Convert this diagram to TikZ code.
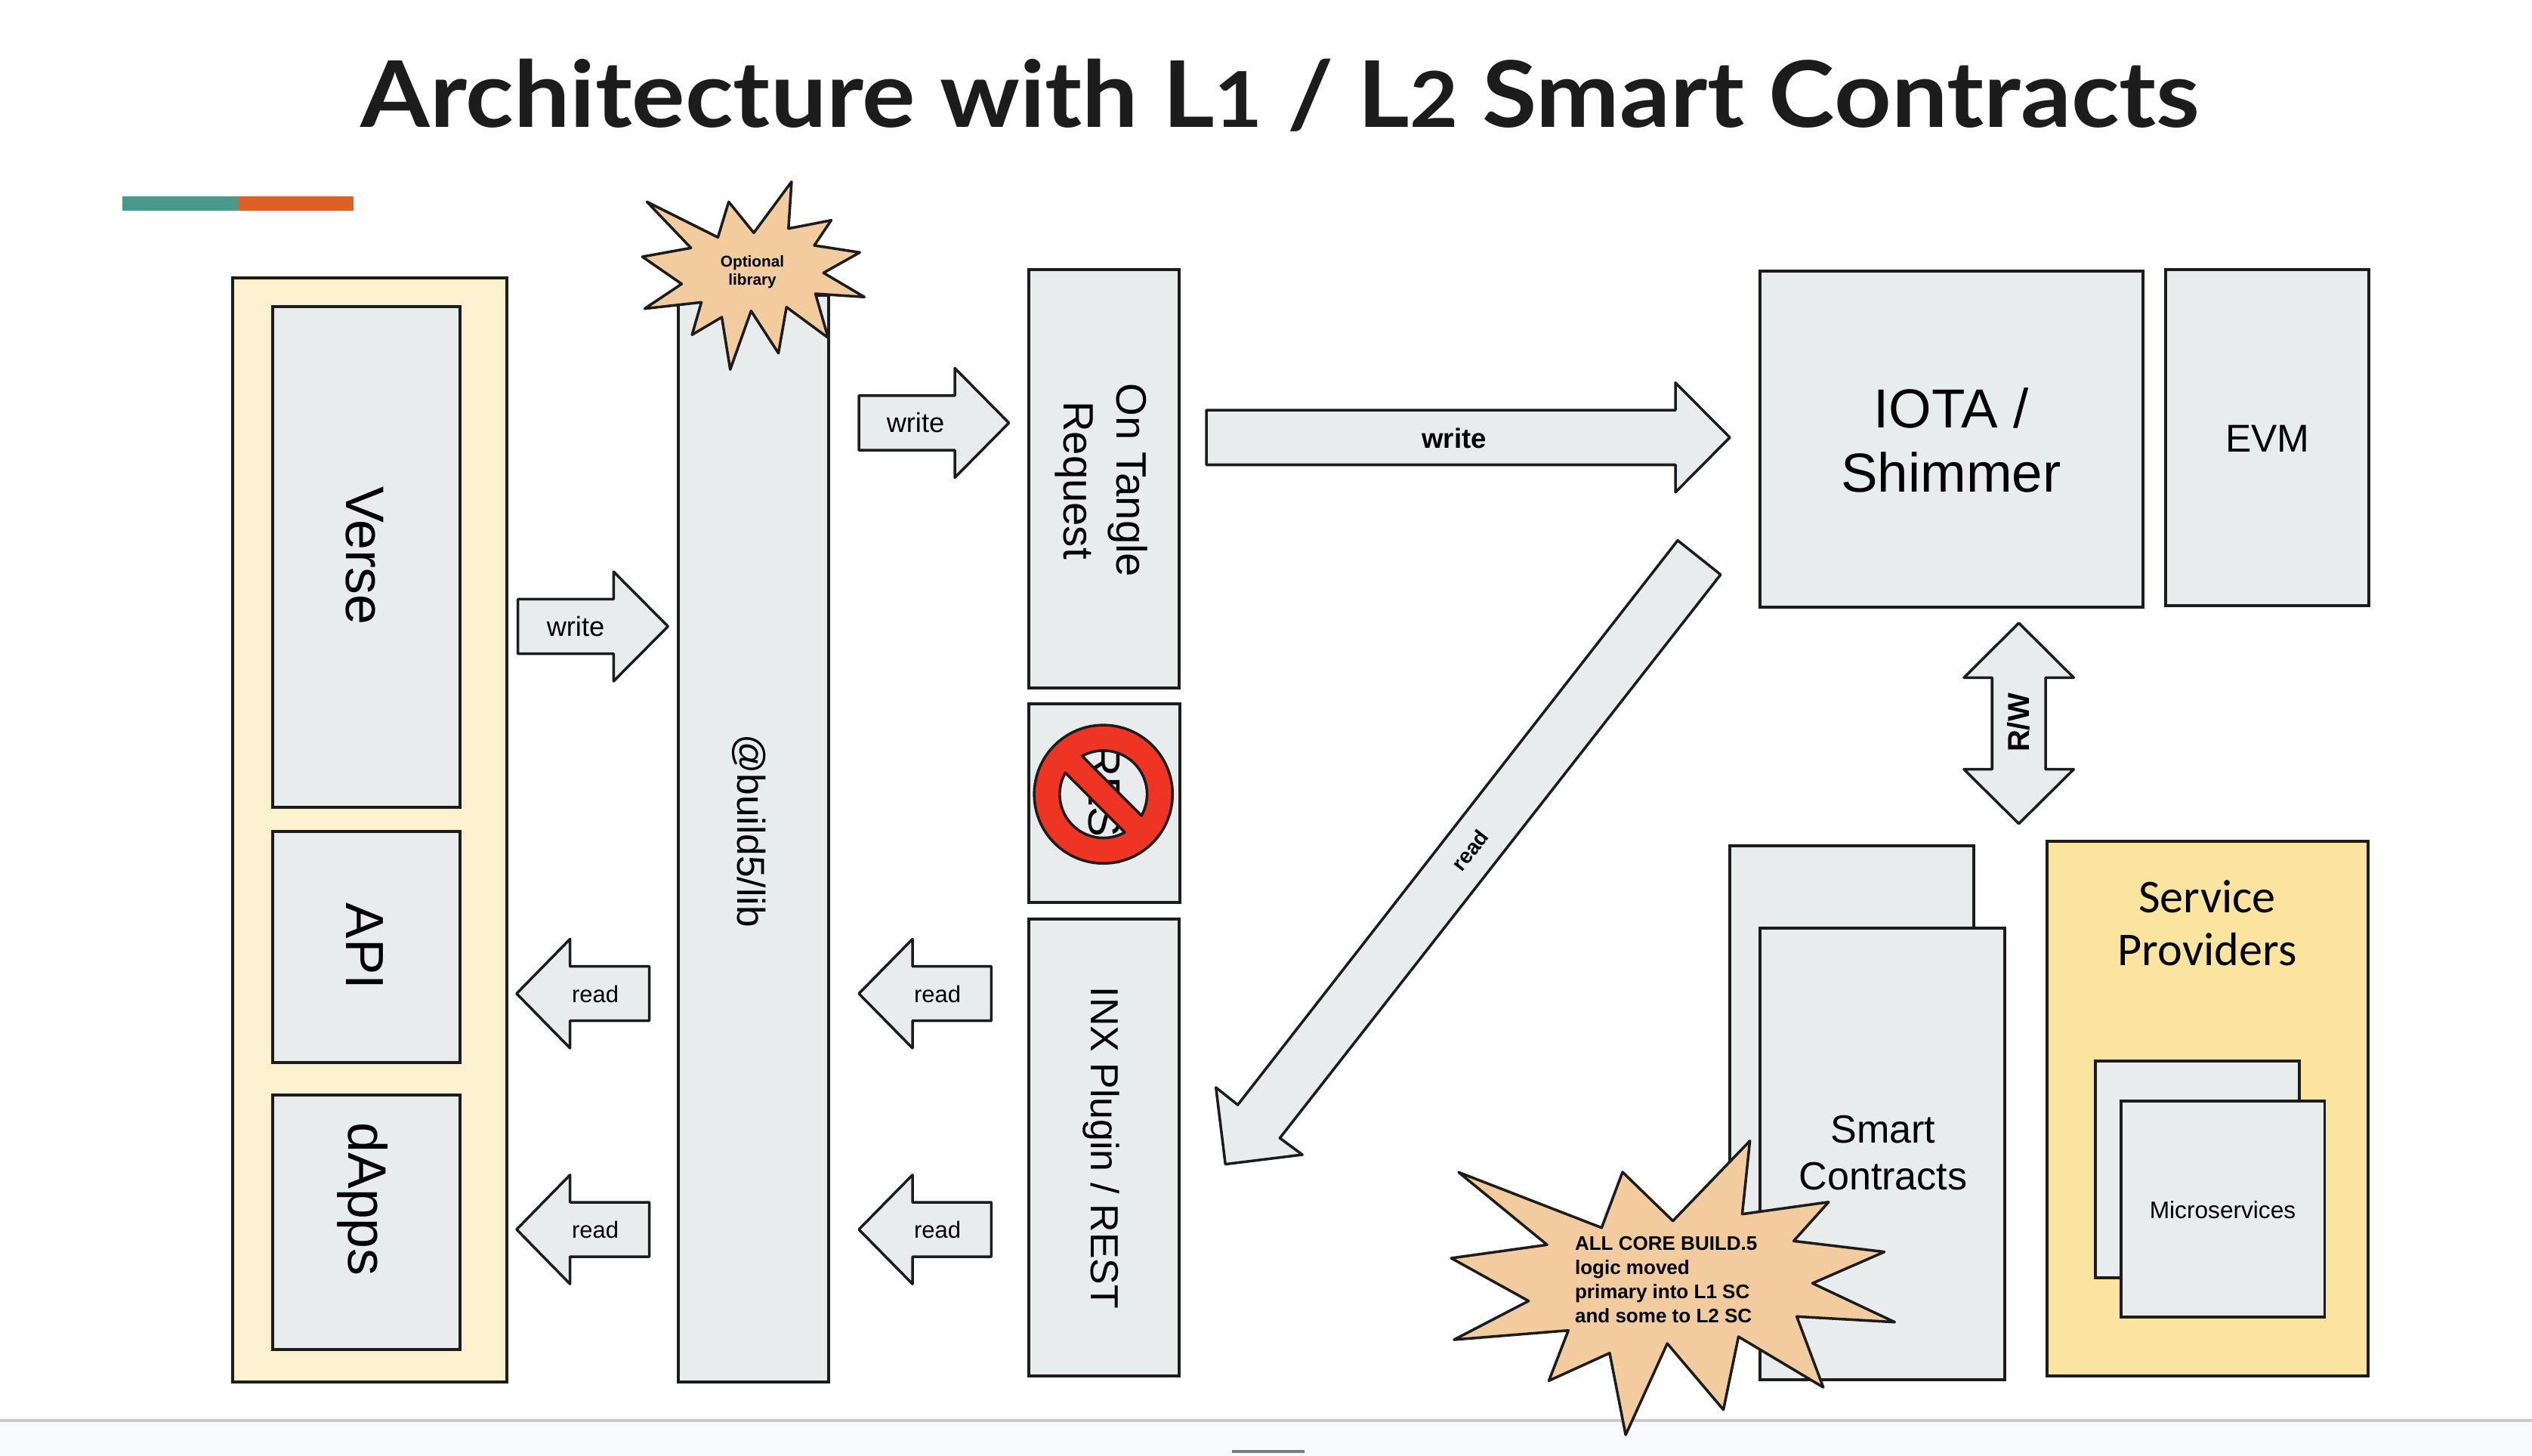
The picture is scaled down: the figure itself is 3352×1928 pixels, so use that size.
\documentclass[tikz,border=0pt]{standalone}
\usepackage{fontspec}
\setmainfont{Liberation Sans}
\newfontfamily\latofont{Lato}
\newfontfamily\carlfont{Carlito}
\definecolor{ink}{HTML}{1C1C1C}
\definecolor{boxgray}{HTML}{E9ECED}
\definecolor{paleyellow}{HTML}{FBF1CF}
\definecolor{deepyellow}{HTML}{FBE4A0}
\definecolor{starfill}{HTML}{F2CC9F}
\definecolor{nored}{HTML}{EE3524}
\definecolor{barteal}{HTML}{4B998B}
\definecolor{barorange}{HTML}{DB6127}
\definecolor{footfill}{HTML}{F9FAFC}
\definecolor{footline}{HTML}{C8C9C8}
\definecolor{pillgray}{HTML}{7B7D7B}
\tikzset{
  boxs/.style={draw=ink,line width=1.05pt,fill=boxgray,inner sep=0pt,outer sep=0pt},
  arrowshape/.style={draw=ink,line width=1pt,fill=boxgray,line join=round},
  starshape/.style={draw=ink,line width=1pt,fill=starfill,line join=round},
  lbl/.style={inner sep=0pt,outer sep=0pt,text=black,align=center},
  fnt/.style 2 args={font={\fontsize{#1}{#2}\selectfont}},
  fntb/.style 2 args={font={\fontsize{#1}{#2}\selectfont\bfseries}},
}
% box: name, x1, y1, x2, y2, options
\newcommand\boxat[6]{\node[boxs,#6,minimum width={(#4-#2)*0.01cm},minimum height={(#5-#3)*0.01cm}] (#1) at ({(#2+#4)/2},{(#3+#5)/2}) {};}
% right arrow: tail, base, tip, yc
\newcommand\arrowR[4]{\draw[arrowshape] (#1,{#4-36.2}) -- (#2,{#4-36.2}) -- (#2,{#4-72.5}) -- (#3,#4) -- (#2,{#4+72.5}) -- (#2,{#4+36.2}) -- (#1,{#4+36.2}) -- cycle;}
\newcommand\arrowL[4]{\draw[arrowshape] (#1,{#4-36}) -- (#2,{#4-36}) -- (#2,{#4-72.2}) -- (#3,#4) -- (#2,{#4+72.2}) -- (#2,{#4+36}) -- (#1,{#4+36}) -- cycle;}
\begin{document}
\begin{tikzpicture}[x=0.01cm,y=-0.01cm]
\useasboundingbox (0,0) rectangle (3352,1928);
\fill[white] (0,0) rectangle (3352,1928);
% footer
\fill[footfill] (0,1881) rectangle (3352,1928);
\draw[footline,line width=0.9pt] (0,1881) -- (3352,1881);
\fill[pillgray] (1631,1920) rectangle (1727,1924);
% title
\node[lbl,text=ink,xscale=1.085] (title) at (1695,126) {\latofont\fontsize{34.6}{40}\selectfont\bfseries Architecture with L{\fontsize{29}{40}\selectfont 1} / L{\fontsize{29}{40}\selectfont 2} Smart Contracts};
% accent bar
\fill[barteal] (162,260) rectangle (316,279);
\fill[barorange] (316,260) rectangle (468,279);
% left frame
\boxat{frame}{308}{368}{671}{1830}{fill=paleyellow}
\boxat{verse}{361}{406}{609}{1069}{}
\boxat{api}{361}{1101}{609}{1407}{}
\boxat{dapps}{361}{1450}{609}{1787}{}
\node[lbl,rotate=-90,fnt={20.4}{24}] (versetxt) at (483,736) {Verse};
\node[lbl,rotate=-90,fnt={20.2}{24}] (apitxt) at (483,1253) {API};
\node[lbl,rotate=-90,fnt={20.4}{24}] (dappstxt) at (480,1588) {dApps};
% lib
\boxat{lib}{898}{391}{1097}{1830}{}
\node[lbl,rotate=-90,fnt={14.65}{18}] (libtxt) at (992,1100) {@build5/lib};
\draw[starshape] (1047.9,240.7) -- (1043.8,302.7) -- (1100.4,291.7) -- (1078,325) -- (1138.2,334.3) -- (1090.2,361.3) -- (1144.3,393.3) -- (1079.5,389) -- (1096.3,447.3) -- (1041.2,406.7) -- (1030.5,467.7) -- (994.3,411.7) -- (966.7,489.3) -- (955.5,420) -- (916.2,443.3) -- (928.5,400.3) -- (853.5,408.7) -- (902.4,376) -- (850.4,340) -- (914.7,328.3) -- (856.5,267.3) -- (950.4,314.3) -- (964.7,267.3) -- (997.9,308.3) -- cycle;
\node[lbl,fntb={5.9}{6.83}] (opttxt) at (996,360) {Optional\\library};
% middle column
\boxat{tangle}{1362}{357}{1561}{911}{}
\node[lbl,rotate=-90,fnt={16}{20}] (tangletxt) at (1458,636) {On Tangle\\Request};
\boxat{rest}{1362}{932}{1562}{1195}{}
\node[lbl,rotate=-90,fnt={17}{20}] (resttxt) at (1462,1065) {REST};
\begin{scope}[shift={(1460.7,1051.7)}]
\draw[draw=ink,line width=1pt,fill=nored,even odd rule,line join=round]
  (0,0) circle[radius=0.915cm]
  (119:0.578cm) arc[start angle=119,end angle=-29.4,radius=0.578cm] -- cycle
  (150.5:0.578cm) arc[start angle=150.5,end angle=299.2,radius=0.578cm] -- cycle;
\end{scope}
\boxat{inx}{1362}{1217}{1561}{1822}{}
\node[lbl,rotate=-90,fnt={14.75}{18}] (inxtxt) at (1458,1520) {INX Plugin / REST};
% write arrows
\arrowR{685.7}{812.3}{884.3}{829.5}
\node[lbl,fnt={10.3}{12}] (w1) at (762,830) {write};
\arrowR{1137}{1264}{1335.6}{560}
\node[lbl,fnt={10.3}{12}] (w2) at (1212,560) {write};
\arrowR{1597}{2218}{2290}{579.3}
\node[lbl,fntb={10.4}{12}] (w3) at (1925,580) {write};
% read arrows
\arrowL{859.5}{754.6}{683.9}{1315.7}
\node[lbl,fnt={8.8}{12}] (r1) at (788,1316) {read};
\arrowL{1312.3}{1208}{1137}{1315.7}
\node[lbl,fnt={8.8}{12}] (r2) at (1241,1316) {read};
\arrowL{859.5}{754.6}{683.9}{1628}
\node[lbl,fnt={8.8}{12}] (r3) at (788,1628) {read};
\arrowL{1312.3}{1208}{1137}{1628}
\node[lbl,fnt={8.8}{12}] (r4) at (1241,1628) {read};
% diagonal arrow
\draw[arrowshape] (2221,715.6) -- (2277.8,760.9) -- (1694.3,1507) -- (1724.1,1529) -- (1622.2,1541.6) -- (1609.7,1440) -- (1638.6,1463) -- cycle;
\node[lbl,rotate=52,fntb={8}{10}] (r5) at (1946,1126) {read};
% right
\boxat{iota}{2330}{359}{2837}{804}{}
\node[lbl,fnt={20.7}{24.2}] (iotatxt) at (2583,583) {IOTA /\\Shimmer};
\boxat{evm}{2867}{357}{3136}{802}{}
\node[lbl,fnt={14.6}{18}] (evmtxt) at (3002,581) {EVM};
% R/W arrow
\draw[arrowshape] (2672.6,825) -- (2745.3,897.3) -- (2708,897.3) -- (2708,1018.7) -- (2745.3,1018.7) -- (2672.6,1090.7) -- (2599.9,1018.7) -- (2637.2,1018.7) -- (2637.2,897.3) -- (2599.9,897.3) -- cycle;
\node[lbl,rotate=90,fntb={11.4}{14}] (rwtxt) at (2672,957) {R/W};
% smart contracts
\boxat{scback}{2290}{1120}{2613}{1718}{}
\boxat{scfront}{2330}{1229}{2654}{1827}{}
\node[lbl,fnt={14.8}{17.64}] (sctxt) at (2493,1527) {Smart\\Contracts};
% service providers
\boxat{service}{2710}{1114}{3135}{1822}{fill=deepyellow}
\node[lbl,font={\carlfont\fontsize{17.7}{19.9}\selectfont}] (servtxt) at (2922,1222) {Service\\Providers};
\boxat{msback}{2774}{1405.3}{3043.7}{1691.7}{}
\boxat{msfront}{2808}{1457.7}{3077.3}{1744}{}
\node[lbl,fnt={9}{11}] (mstxt) at (2942.5,1601.7) {Microservices};
% big star
\draw[starshape] (2316.6,1510.7) -- (2306.4,1607.7) -- (2420.8,1591.7) -- (2374.5,1643.3) -- (2494.6,1657.7) -- (2399.4,1699.3) -- (2508.3,1750.7) -- (2378.6,1743.3) -- (2413.7,1837) -- (2301.5,1770) -- (2281.5,1866.7) -- (2207.2,1779) -- (2152.1,1900) -- (2130.9,1791.7) -- (2050.5,1828.3) -- (2076.2,1761.7) -- (1924.9,1774) -- (2023.6,1722.7) -- (1921.2,1666) -- (2048.1,1648.3) -- (1931,1552.3) -- (2120.3,1625.7) -- (2148,1552) -- (2214.6,1616.7) -- cycle;
\node[lbl,align=left,anchor=west,fntb={7.4}{9.02}] (coretxt) at (2085,1694.5) {ALL CORE BUILD.5\\logic moved\\primary into L1 SC\\and some to L2 SC};
\end{tikzpicture}
\end{document}
